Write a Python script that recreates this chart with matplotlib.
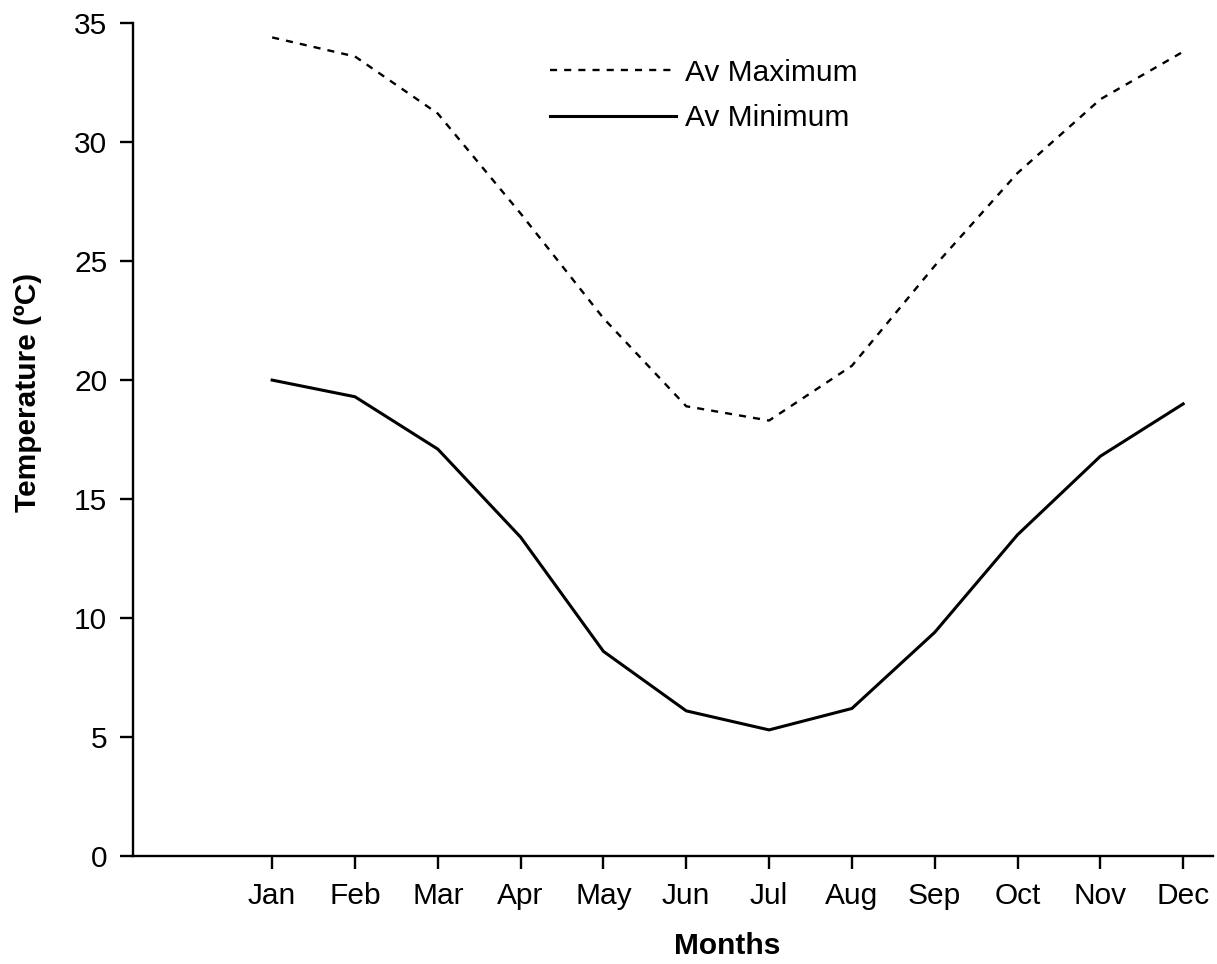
import numpy as np
import matplotlib.pyplot as plt

plt.rcParams['font.family'] = ['Liberation Sans', 'DejaVu Sans']

# Monthly average temperatures (deg C)
months = ["Jan", "Feb", "Mar", "Apr", "May", "Jun",
          "Jul", "Aug", "Sep", "Oct", "Nov", "Dec"]
av_max = [34.4, 33.6, 31.2, 27.0, 22.6, 18.9, 18.3, 20.6, 24.8, 28.7, 31.8, 33.8]
av_min = [20.0, 19.3, 17.1, 13.4, 8.6, 6.1, 5.3, 6.2, 9.4, 13.5, 16.8, 19.0]

x = np.arange(1, len(months) + 1)

fig = plt.figure(figsize=(12.17, 9.64), dpi=100)
ax = fig.add_axes([0.1093, 0.112, 0.8874, 0.864])

ax.plot(x, av_max, color="black", linestyle=(0, (3, 3)), linewidth=1.7, label="Av Maximum")
ax.plot(x, av_min, color="black", linestyle="-", linewidth=2.2, label="Av Minimum")

ax.set_xlim(-0.68, 12.36)
ax.set_ylim(0, 35)
ax.set_xticks(x)
ax.set_xticklabels(months)
ax.set_yticks(np.arange(0, 36, 5))

for side in ["top", "right"]:
    ax.spines[side].set_visible(False)
for side in ["left", "bottom"]:
    ax.spines[side].set_linewidth(1.7)

ax.tick_params(axis="both", direction="out", length=9.5, width=1.7, labelsize=21.5, pad=9)
ax.set_xlabel("Months", fontsize=21.5, fontweight="bold")
ax.set_ylabel("Temperature (ºC)", fontsize=21.5, fontweight="bold")
# axis titles sit centred over the month ticks / upper part of the scale
ax.xaxis.set_label_coords(0.55, -0.091)
ax.yaxis.set_label_coords(-0.084, 0.557)

ax.legend(loc="upper left", bbox_to_anchor=(0.430, 0.967), bbox_transform=fig.transFigure,
          frameon=False, fontsize=21.5, handlelength=4.2, handletextpad=0.3, labelspacing=0.58)

fig.savefig("out.png", dpi=100)
